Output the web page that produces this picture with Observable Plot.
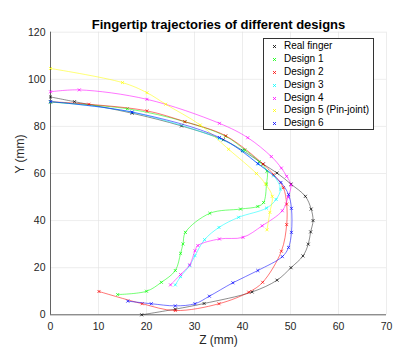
<!DOCTYPE html>
<html>
<head>
<meta charset="utf-8">
<script src="https://cdn.jsdelivr.net/npm/d3@7"></script>
<script src="https://cdn.jsdelivr.net/npm/@observablehq/plot@0.6"></script>
<style>
  html, body { margin: 0; padding: 0; background: #fff; }
  #wrap { position: relative; width: 415px; height: 359px; font-family: "Liberation Sans", Arial, sans-serif; }
  #legend { position: absolute; left: 263px; top: 38px; width: 111px; height: 92px; border: 1px solid #333;
            background: #fff; box-sizing: border-box; font-size: 10px; color: #000; padding-top: 1px; }
  .row { height: 12.9px; line-height: 12.9px; display: flex; align-items: center; white-space: nowrap; }
  .row svg { margin-left: 8px; margin-right: 7px; }
</style>
</head>
<body>
<div id="wrap"></div>
<script>
const titleText = "Fingertip trajectories of different designs";
const xLabel = "Z (mm)";
const yLabel = "Y (mm)";
const xTicks = [0, 10, 20, 30, 40, 50, 60, 70];
const yTicks = [0, 20, 40, 60, 80, 100, 120];

const seriesNames = ["Real finger", "Design 1", "Design 2", "Design 3", "Design 4", "Design 5 (Pin-joint)", "Design 6"];
const seriesColors = ["#000000", "#00ff00", "#ff0000", "#00ffff", "#ff00ff", "#ffff00", "#0000ff"];

const realZ = [0, 5, 17, 27.3, 36, 40, 44.3, 47.2, 50.1, 53.1, 54.3, 54.7, 54.2, 53.7, 52.6, 50.1, 47.2, 42, 32, 26, 19];
const realY = [92.5, 90.5, 85.6, 80.2, 74.3, 69.8, 64, 60.2, 55.5, 50.3, 44.9, 40, 35.2, 30, 25, 20, 14.7, 9.7, 4.8, 2.4, 0];

const d1Z = [0, 16, 28, 36.5, 40.5, 43.5, 45.1, 45, 44.4, 43.2, 39.6, 33.2, 28.1, 27.6, 27.1, 26, 23.1, 20, 14];
const d1Y = [90.3, 87.5, 82, 75.8, 70, 65, 61, 55.5, 47.7, 46, 44.9, 43.1, 35, 30.1, 26.1, 18.8, 13.8, 10, 8.6];

const d2Z = [0, 8, 20.1, 28, 36.5, 44.3, 46.5, 48.5, 49.2, 49.2, 48.1, 44.2, 41.3, 35.1, 26, 19.1, 10.1];
const d2Y = [90.5, 89.4, 86.6, 82, 76, 64, 59.5, 54, 47, 38.3, 27, 13.8, 9.6, 4.7, 1.8, 4.7, 9.9];

const d3Z = [0, 17, 35.2, 40, 43.3, 46.5, 47.9, 47, 45, 39.2, 35.1, 32.1, 30.1, 29, 27.1, 26];
const d3Y = [90.5, 86, 74.8, 69.5, 64, 59, 53.4, 49, 45.3, 41.4, 37.1, 31.9, 25.1, 20.9, 16.2, 12.7];

const d4Z = [0, 6, 20.1, 35.2, 41.1, 46, 48.1, 49.2, 50.1, 49.5, 48.3, 44.1, 40.1, 35.2, 30.7, 30.1, 29, 27.1, 25];
const d4Y = [94.7, 95.5, 91.5, 81.3, 75.2, 67.2, 62.3, 58.8, 55.1, 50, 44.2, 37.8, 32.9, 32.2, 29.4, 27.2, 21.2, 17.1, 12.7];

const d5Z = [0, 15, 20.1, 24, 31.2, 37.1, 42.9, 44.8, 46.2, 45.7, 45.1];
const d5Y = [104.6, 98.6, 94.3, 89.4, 80.6, 70.3, 60, 55.5, 50.3, 43.5, 36.1];

const d6Z = [0, 17, 35.2, 43.2, 48, 49.6, 50.2, 50.2, 49.6, 48.3, 43.2, 38, 33.1, 30.1, 26, 21, 16.1];
const d6Y = [90.5, 86.1, 75.3, 64.2, 56.2, 51, 45.2, 35, 28.6, 24.7, 18.8, 13.6, 7.9, 4.7, 3.8, 4.7, 5.8];

const allZ = [realZ, d1Z, d2Z, d3Z, d4Z, d5Z, d6Z];
const allY = [realY, d1Y, d2Y, d3Y, d4Y, d5Y, d6Y];

const series = allZ.map((zs, i) => zs.map((z, j) => ({z, y: allY[i][j], name: seriesNames[i]})));

const lineMarks = [];
series.forEach((data, i) => {
  lineMarks.push(Plot.line(data, {x: "z", y: "y", stroke: seriesColors[i], strokeWidth: 0.6, strokeOpacity: i === 0 ? 0.75 : 0.9, curve: "catmull-rom"}));
  lineMarks.push(Plot.dot(data, {x: "z", y: "y", stroke: seriesColors[i], symbol: "times", r: 1.5, strokeWidth: 0.7}));
});

const chart = Plot.plot({
  width: 415,
  height: 359,
  marginLeft: 50,
  marginRight: 29,
  marginTop: 31.7,
  marginBottom: 44.7,
  style: {fontFamily: "'Liberation Sans', Arial, sans-serif", fontSize: "10.5px", color: "#262626", background: "#fff"},
  x: {domain: [0, 70], label: null},
  y: {domain: [0, 120], label: null},
  marks: [
    Plot.gridX(xTicks, {stroke: "#e0e0e0", strokeOpacity: 1, strokeWidth: 0.6}),
    Plot.gridY(yTicks, {stroke: "#e0e0e0", strokeOpacity: 1, strokeWidth: 0.6}),
    Plot.ruleX([0], {stroke: "#262626", strokeWidth: 0.7}),
    Plot.ruleY([0], {stroke: "#262626", strokeWidth: 0.7}),
    Plot.axisX(xTicks, {tickSize: 0, tickPadding: 8, fill: "#262626", fontSize: 10.5}),
    Plot.axisY(yTicks, {tickSize: 0, tickPadding: 5, fill: "#262626", fontSize: 10.5}),
    ...lineMarks,
    Plot.text([titleText], {frameAnchor: "top", dy: -12.7, fontWeight: "bold", fontSize: 13, fill: "#000"}),
    Plot.text([xLabel], {frameAnchor: "bottom", dy: 29, fontSize: 12, fill: "#262626"}),
    Plot.text([yLabel], {frameAnchor: "left", dx: -30, rotate: -90, fontSize: 12, fill: "#262626"})
  ]
});

const wrap = document.getElementById("wrap");
wrap.appendChild(chart);

const legend = document.createElement("div");
legend.id = "legend";
seriesNames.forEach((name, i) => {
  const row = document.createElement("div");
  row.className = "row";
  row.innerHTML = `<svg width="5" height="5" viewBox="0 0 5 5"><path d="M1,1L4,4M4,1L1,4" stroke="${seriesColors[i]}" stroke-width="0.8" fill="none"/></svg><span>${name}</span>`;
  legend.appendChild(row);
});
wrap.appendChild(legend);
</script>
</body>
</html>
